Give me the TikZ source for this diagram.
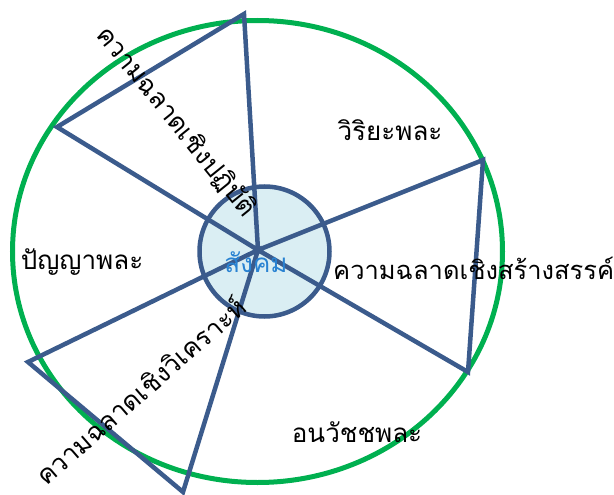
\documentclass[tikz,border=0pt]{standalone}
\usepackage{fontspec}
\newfontfamily\thaifont[Script=Thai]{Loma}
\definecolor{ringgreen}{RGB}{0,176,80}
\definecolor{spokeblue}{RGB}{59,91,140}
\definecolor{hubfill}{RGB}{218,238,243}
\definecolor{hubtext}{RGB}{40,130,210}
\tikzset{
  spoke/.style={draw=spokeblue, line width=4.5pt},
  thaitext/.style={font=\thaifont\fontsize{26}{31}\selectfont, inner sep=0pt},
}
\begin{document}
\begin{tikzpicture}[x=1pt,y=-1pt]
    \useasboundingbox (0,0) rectangle (614,495);
    \draw[ringgreen, line width=5pt] (257.5,251.5) ellipse [x radius=245, y radius=231];
    \node[circle, draw=spokeblue, fill=hubfill, line width=4.5pt, minimum size=130pt] (hub) at (264.5,251.5) {};
    \coordinate (centre) at (258,250);
    \coordinate (tipA) at (244,14);
    \coordinate (tipB) at (57,127);
    \coordinate (tipC) at (483,160);
    \coordinate (tipD) at (468,372);
    \coordinate (tipE) at (28,362);
    \coordinate (tipF) at (183,492);
    \draw[spoke] (centre) -- (tipA) -- (tipB) -- cycle;
    \draw[spoke] (centre) -- (tipC) -- (tipD) -- cycle;
    \draw[spoke] (centre) -- (tipE) -- (tipF) -- cycle;
    \node[thaitext, rotate=-51] (practical) at (176,122) {ความฉลาดเชิงปฏิบัติ};
    \node[thaitext, rotate=41] (analytic) at (140,390) {ความฉลาดเชิงวิเคราะห์};
    \node[thaitext, anchor=west, font=\thaifont\fontsize{25.5}{30}\selectfont] (creative) at (333,268) {ความฉลาดเชิงสร้างสรรค์};
    \node[thaitext] (viriya) at (390,130) {วิริยะพละ};
    \node[thaitext] (panya) at (82,262) {ปัญญาพละ};
    \node[thaitext] (anavajja) at (357,432) {อนวัชชพละ};
    \node[thaitext, text=hubtext] (sangkhom) at (256,262) {สังคม};
\end{tikzpicture}
\end{document}
